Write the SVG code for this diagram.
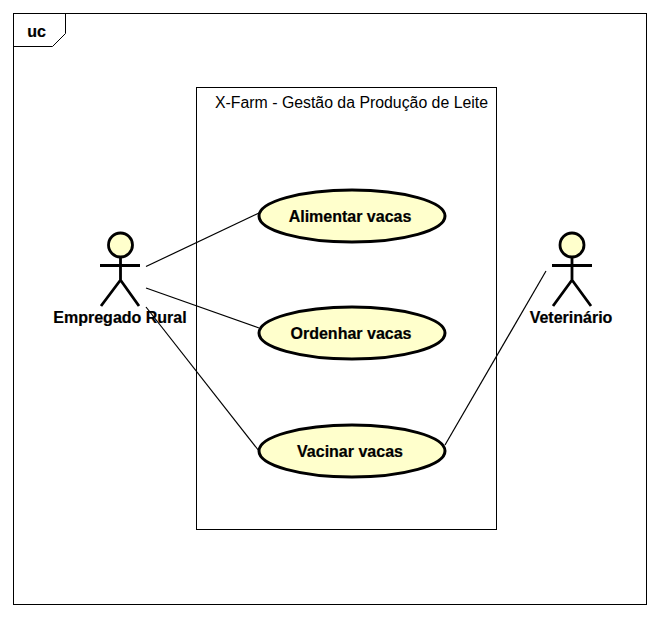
<svg xmlns="http://www.w3.org/2000/svg" width="660" height="617" viewBox="0 0 660 617">
<style>
.frame{fill:none;stroke:#000;stroke-width:1}
.conn{fill:none;stroke:#000;stroke-width:1.2}
.uc{fill:#ffffcc;stroke:#000;stroke-width:3}
.head{fill:#ffffcc;stroke:#000;stroke-width:2.8}
.body{fill:none;stroke:#000;stroke-width:2.8}
text{font-family:"Liberation Sans",Arial,sans-serif;font-size:16px;fill:#000}
.b{font-weight:bold;text-anchor:middle;stroke:#000;stroke-width:0.2}
</style>
<rect width="660" height="617" fill="#fff"/>
<g id="frame">
<rect class="frame" x="13.5" y="13.5" width="633" height="591"/>
<path class="frame" d="M13.500 46.500H52.500L65.500 33.500V13.500"/>
<text class="b" x="36.500" y="37">uc</text>
</g>
<g id="system">
<rect class="frame" x="196.5" y="87.5" width="300" height="442"/>
<text x="215" y="108" textLength="273" lengthAdjust="spacingAndGlyphs">X-Farm - Gestão da Produção de Leite</text>
</g>
<g id="connectors">
<path class="conn" d="M146 266.500L259 213"/>
<path class="conn" d="M146 288L259 328"/>
<path class="conn" d="M146 307L259 451"/>
<path class="conn" d="M546 271L445 445"/>
</g>
<g id="uc-alimentar">
<ellipse class="uc" cx="352" cy="216" rx="93" ry="26"/>
<text class="b" x="350" y="222">Alimentar vacas</text>
</g>
<g id="uc-ordenhar">
<ellipse class="uc" cx="352" cy="333" rx="93" ry="26"/>
<text class="b" x="351" y="339">Ordenhar vacas</text>
</g>
<g id="uc-vacinar">
<ellipse class="uc" cx="352" cy="451" rx="93" ry="26"/>
<text class="b" x="350" y="457">Vacinar vacas</text>
</g>
<g id="actor-empregado">
<circle class="head" cx="120.500" cy="245" r="12"/>
<path class="body" d="M120.500 257V280M100 265.500H140M101 306L120.500 280L139 306"/>
<text class="b" x="120" y="323">Empregado Rural</text>
</g>
<g id="actor-veterinario">
<circle class="head" cx="572" cy="245" r="12"/>
<path class="body" d="M572 257V280M552 265.500H592M553 306L572 280L591 306"/>
<text class="b" x="571" y="323">Veterinário</text>
</g>
</svg>
